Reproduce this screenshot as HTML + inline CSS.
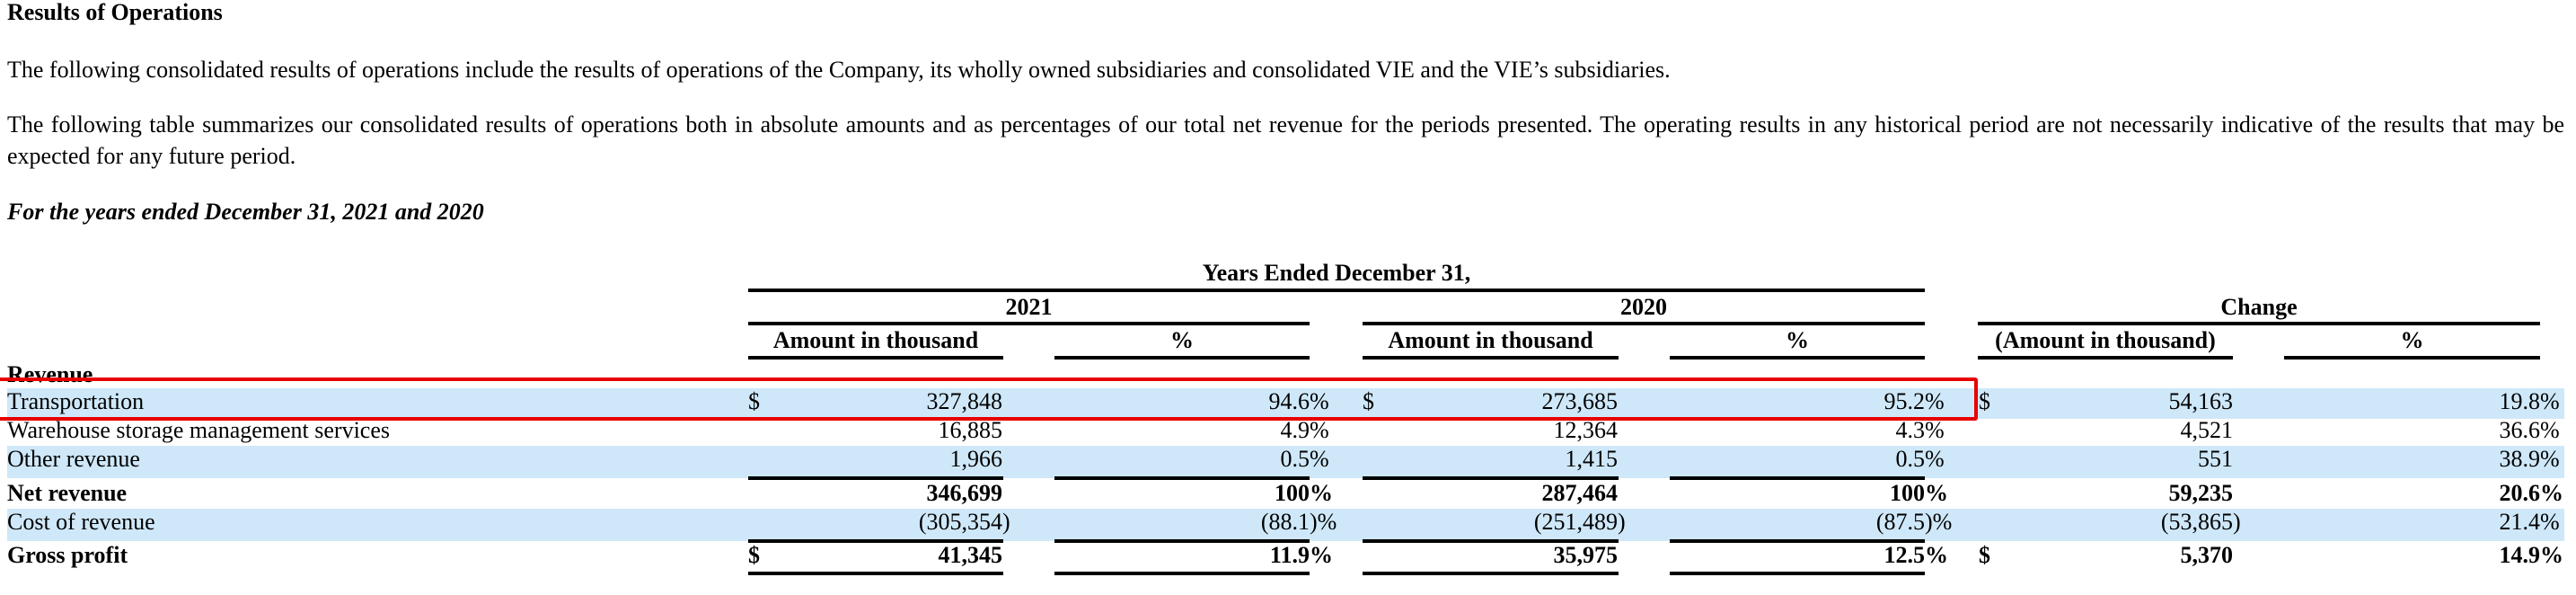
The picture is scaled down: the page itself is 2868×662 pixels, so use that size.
<!DOCTYPE html>
<html>
<head>
<meta charset="utf-8">
<style>
  html, body { margin:0; padding:0; background:#fff; }
  body { width:2868px; height:662px; position:relative; overflow:hidden; }
  .t { position:absolute; font-family:"Liberation Serif", "Times New Roman", serif; font-size:26px; line-height:30px; white-space:nowrap; color:#000; }
  .b { font-weight:bold; }
  .i { font-style:italic; }
  .c { text-align:center; }
  .r { text-align:right; }
  .ln { position:absolute; background:#000; height:4px; }
  .band { position:absolute; left:8px; width:2847px; background:#cfe8f9; }
  .red { position:absolute; box-sizing:border-box; border:4px solid #e80000; border-radius:3px; }
</style>
</head>
<body>

<!-- Intro text -->
<div class="t b" style="left:8px;top:-1px;">Results of Operations</div>
<div class="t" style="left:8px;top:63px;">The following consolidated results of operations include the results of operations of the Company, its wholly owned subsidiaries and consolidated VIE and the VIE’s subsidiaries.</div>
<div class="t" style="left:8px;top:124px;width:2847px;white-space:normal;text-align:justify;text-align-last:justify;">The following table summarizes our consolidated results of operations both in absolute amounts and as percentages of our total net revenue for the periods presented. The operating results in any historical period are not necessarily indicative of the results that may be</div>
<div class="t" style="left:8px;top:159px;">expected for any future period.</div>
<div class="t b i" style="left:8px;top:221px;">For the years ended December 31, 2021 and 2020</div>

<!-- Row bands -->
<div class="band" style="top:432px;height:34px;"></div>
<div class="band" style="top:496px;height:36px;"></div>
<div class="band" style="top:566px;height:36px;"></div>

<!-- Header -->
<div class="t b c" style="left:833px;width:1310px;top:289px;">Years Ended December 31,</div>
<div class="ln" style="left:833px;width:1310px;top:321px;"></div>

<div class="t b c" style="left:833px;width:625px;top:327px;">2021</div>
<div class="t b c" style="left:1517px;width:626px;top:327px;">2020</div>
<div class="t b c" style="left:2202px;width:626px;top:327px;">Change</div>
<div class="ln" style="left:833px;width:625px;top:358px;"></div>
<div class="ln" style="left:1517px;width:626px;top:358px;"></div>
<div class="ln" style="left:2202px;width:626px;top:358px;"></div>

<div class="t b c" style="left:833px;width:284px;top:364px;">Amount in thousand</div>
<div class="t b c" style="left:1174px;width:284px;top:364px;">%</div>
<div class="t b c" style="left:1517px;width:285px;top:364px;">Amount in thousand</div>
<div class="t b c" style="left:1859px;width:284px;top:364px;">%</div>
<div class="t b c" style="left:2202px;width:284px;top:364px;">(Amount in thousand)</div>
<div class="t b c" style="left:2543px;width:285px;top:364px;">%</div>
<div class="ln" style="left:833px;width:284px;top:396px;"></div>
<div class="ln" style="left:1174px;width:284px;top:396px;"></div>
<div class="ln" style="left:1517px;width:285px;top:396px;"></div>
<div class="ln" style="left:1859px;width:284px;top:396px;"></div>
<div class="ln" style="left:2202px;width:284px;top:396px;"></div>
<div class="ln" style="left:2543px;width:285px;top:396px;"></div>

<!-- Labels -->
<div class="t b" style="left:8px;top:402px;">Revenue</div>
<div class="t" style="left:8px;top:432px;">Transportation</div>
<div class="t" style="left:8px;top:464px;">Warehouse storage management services</div>
<div class="t" style="left:8px;top:496px;">Other revenue</div>
<div class="t b" style="left:8px;top:534px;">Net revenue</div>
<div class="t" style="left:8px;top:566px;">Cost of revenue</div>
<div class="t b" style="left:8px;top:603px;">Gross profit</div>

<!-- Row: Transportation (top 432) -->
<div class="t" style="left:833px;top:432px;">$</div>
<div class="t r" style="right:1752px;top:432px;">327,848</div>
<div class="t r" style="right:1410px;top:432px;">94.6</div><div class="t" style="left:1458px;top:432px;">%</div>
<div class="t" style="left:1517px;top:432px;">$</div>
<div class="t r" style="right:1067px;top:432px;">273,685</div>
<div class="t r" style="right:725px;top:432px;">95.2</div><div class="t" style="left:2143px;top:432px;">%</div>
<div class="t" style="left:2203px;top:432px;">$</div>
<div class="t r" style="right:382px;top:432px;">54,163</div>
<div class="t r" style="right:40px;top:432px;">19.8</div><div class="t" style="left:2828px;top:432px;">%</div>

<!-- Row: Warehouse (top 464) -->
<div class="t r" style="right:1752px;top:464px;">16,885</div>
<div class="t r" style="right:1410px;top:464px;">4.9</div><div class="t" style="left:1458px;top:464px;">%</div>
<div class="t r" style="right:1067px;top:464px;">12,364</div>
<div class="t r" style="right:725px;top:464px;">4.3</div><div class="t" style="left:2143px;top:464px;">%</div>
<div class="t r" style="right:382px;top:464px;">4,521</div>
<div class="t r" style="right:40px;top:464px;">36.6</div><div class="t" style="left:2828px;top:464px;">%</div>

<!-- Row: Other revenue (top 496) -->
<div class="t r" style="right:1752px;top:496px;">1,966</div>
<div class="t r" style="right:1410px;top:496px;">0.5</div><div class="t" style="left:1458px;top:496px;">%</div>
<div class="t r" style="right:1067px;top:496px;">1,415</div>
<div class="t r" style="right:725px;top:496px;">0.5</div><div class="t" style="left:2143px;top:496px;">%</div>
<div class="t r" style="right:382px;top:496px;">551</div>
<div class="t r" style="right:40px;top:496px;">38.9</div><div class="t" style="left:2828px;top:496px;">%</div>
<div class="ln" style="left:833px;width:284px;top:530px;"></div>
<div class="ln" style="left:1174px;width:284px;top:530px;"></div>
<div class="ln" style="left:1517px;width:285px;top:530px;"></div>
<div class="ln" style="left:1859px;width:284px;top:530px;"></div>

<!-- Row: Net revenue (top 534) -->
<div class="t b r" style="right:1752px;top:534px;">346,699</div>
<div class="t b r" style="right:1410px;top:534px;">100</div><div class="t b" style="left:1458px;top:534px;">%</div>
<div class="t b r" style="right:1067px;top:534px;">287,464</div>
<div class="t b r" style="right:725px;top:534px;">100</div><div class="t b" style="left:2143px;top:534px;">%</div>
<div class="t b r" style="right:382px;top:534px;">59,235</div>
<div class="t b r" style="right:40px;top:534px;">20.6</div><div class="t b" style="left:2828px;top:534px;">%</div>

<!-- Row: Cost of revenue (top 566) -->
<div class="t r" style="right:1752px;top:566px;">(305,354</div><div class="t" style="left:1116px;top:566px;">)</div>
<div class="t r" style="right:1410px;top:566px;">(88.1</div><div class="t" style="left:1458px;top:566px;">)%</div>
<div class="t r" style="right:1067px;top:566px;">(251,489</div><div class="t" style="left:1801px;top:566px;">)</div>
<div class="t r" style="right:725px;top:566px;">(87.5</div><div class="t" style="left:2143px;top:566px;">)%</div>
<div class="t r" style="right:382px;top:566px;">(53,865</div><div class="t" style="left:2486px;top:566px;">)</div>
<div class="t r" style="right:40px;top:566px;">21.4</div><div class="t" style="left:2828px;top:566px;">%</div>
<div class="ln" style="left:833px;width:284px;top:600px;"></div>
<div class="ln" style="left:1174px;width:284px;top:600px;"></div>
<div class="ln" style="left:1517px;width:285px;top:600px;"></div>
<div class="ln" style="left:1859px;width:284px;top:600px;"></div>

<!-- Row: Gross profit (top 603) -->
<div class="t b" style="left:833px;top:603px;">$</div>
<div class="t b r" style="right:1752px;top:603px;">41,345</div>
<div class="t b r" style="right:1410px;top:603px;">11.9</div><div class="t b" style="left:1458px;top:603px;">%</div>
<div class="t b r" style="right:1067px;top:603px;">35,975</div>
<div class="t b r" style="right:725px;top:603px;">12.5</div><div class="t b" style="left:2143px;top:603px;">%</div>
<div class="t b" style="left:2203px;top:603px;">$</div>
<div class="t b r" style="right:382px;top:603px;">5,370</div>
<div class="t b r" style="right:40px;top:603px;">14.9</div><div class="t b" style="left:2828px;top:603px;">%</div>
<div class="ln" style="left:833px;width:284px;top:636px;"></div>
<div class="ln" style="left:1174px;width:284px;top:636px;"></div>
<div class="ln" style="left:1517px;width:285px;top:636px;"></div>
<div class="ln" style="left:1859px;width:284px;top:636px;"></div>

<!-- Red highlight box -->
<div class="red" style="left:-10px;top:420px;width:2212px;height:48px;"></div>

</body>
</html>
